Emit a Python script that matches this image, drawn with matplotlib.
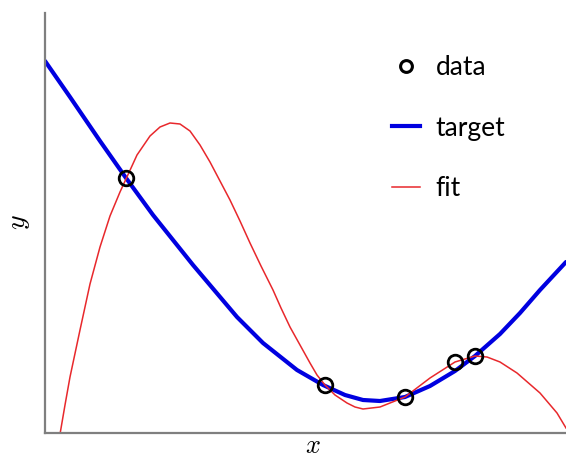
import matplotlib
matplotlib.use("Agg")
import matplotlib.pyplot as plt
from matplotlib.lines import Line2D

plt.rcParams['mathtext.fontset'] = 'cm'

# values (axis units: x 0..521, y 0..420)
data_x = [81, 280, 360, 410, 430]
data_y = [255, 48, 36, 71, 77]

target_x = [0, 25, 55, 81, 108, 148, 192, 218, 252, 278, 300, 318, 335, 360,
            385, 410, 430, 455, 475, 495, 521]
target_y = [372, 336, 292, 255, 218, 168, 116, 90, 63, 48, 38, 33, 32, 36,
            47, 62, 77, 99, 120, 143, 171]

fit_x = [14, 20, 25, 35, 45, 55, 65, 75, 81, 92, 105, 115, 125, 135, 145,
         155, 165, 175, 185, 195, 205, 216, 228, 236, 245, 255, 265, 272,
         280, 290, 302, 310, 318, 335, 360, 385, 410, 430, 442, 455, 472,
         495, 512, 521]
fit_y = [-7, 28, 56, 103, 149, 186, 217, 241, 254, 278, 297, 306, 310, 309,
         302, 288, 271, 252, 233, 212, 190, 167, 143, 125, 106, 88, 70, 58,
         48, 38, 30, 26, 24, 26, 36, 55, 71, 77, 76, 71, 60, 40, 20, 5]

fig = plt.figure(figsize=(5.66, 4.61), dpi=100)
ax = fig.add_axes([45/566, 28/461, 521/566, 420/461])

ax.plot(target_x, target_y, color='#0000e0', lw=3.0, solid_capstyle='round')
ax.plot(fit_x, fit_y, color='#e8282c', lw=1.1)
ax.plot(data_x, data_y, 'o', ms=10.5, mfc='none', mec='black', mew=2.0)

ax.set_xlim(0, 521)
ax.set_ylim(0, 420)
ax.set_xticks([])
ax.set_yticks([])
for s in ['top', 'right']:
    ax.spines[s].set_visible(False)
for s in ['left', 'bottom']:
    ax.spines[s].set_color('#7f7f7f')
    ax.spines[s].set_linewidth(1.6)

fig.text(313/566, 1 - 446/461, '$x$', fontsize=19, ha='center', va='center')
fig.text(18/566, 1 - 222/461, '$y$', fontsize=20, ha='center', va='center',
         rotation=90)

handles = [Line2D([], [], ls='none', marker='o', ms=8.5, mfc='none', mec='black', mew=2.2),
           Line2D([], [], color='#0000e0', lw=3.0),
           Line2D([], [], color='#e8282c', lw=1.1)]
ax.legend(handles, ['data', 'target', 'fit'], loc='upper left',
          bbox_to_anchor=(392/566, 1 - 55/461), bbox_transform=fig.transFigure,
          frameon=False, prop={'family': 'Lato', 'size': 19},
          handlelength=1.05, handletextpad=0.6, labelspacing=1.35, borderpad=0,
          borderaxespad=0)

fig.savefig('out.png', dpi=100)
